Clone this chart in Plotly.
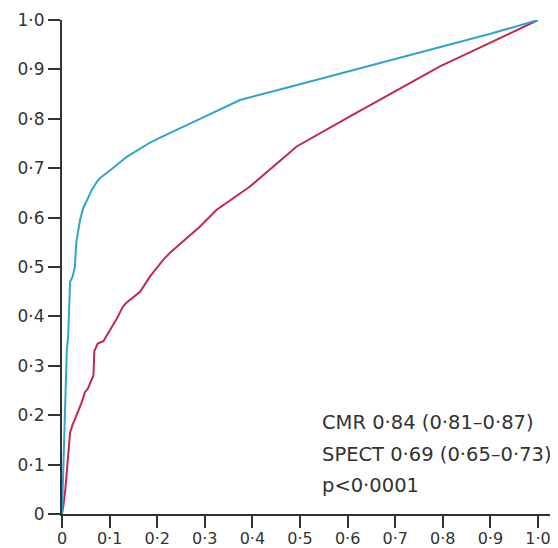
import plotly.graph_objects as go

# CMR ROC curve (blue)
cmr_fpr = [0, 0.003, 0.006, 0.008, 0.010, 0.013, 0.015, 0.016, 0.017, 0.022, 0.027, 0.030,
           0.035, 0.038, 0.045, 0.052, 0.062, 0.073, 0.080, 0.100, 0.136, 0.185, 0.206,
           0.290, 0.374, 0.480, 0.605, 0.700, 0.794, 0.900, 1.0]
cmr_tpr = [0, 0.10, 0.20, 0.27, 0.33, 0.36, 0.40, 0.44, 0.47, 0.48, 0.50, 0.55,
           0.58, 0.596, 0.62, 0.636, 0.655, 0.672, 0.680, 0.695, 0.723, 0.752, 0.762,
           0.80, 0.838, 0.865, 0.897, 0.922, 0.945, 0.972, 1.0]

# SPECT ROC curve (red)
spect_fpr = [0, 0.003, 0.007, 0.010, 0.013, 0.017, 0.022, 0.027, 0.035, 0.041, 0.048, 0.055,
             0.059, 0.066, 0.068, 0.075, 0.087, 0.100, 0.115, 0.128, 0.136, 0.164, 0.185,
             0.213, 0.227, 0.290, 0.325, 0.395, 0.493, 0.605, 0.700, 0.794, 0.900, 1.0]
spect_tpr = [0, 0.017, 0.05, 0.09, 0.131, 0.165, 0.18, 0.192, 0.21, 0.225, 0.246, 0.255,
             0.265, 0.28, 0.33, 0.345, 0.35, 0.37, 0.395, 0.42, 0.428, 0.45, 0.481,
             0.515, 0.529, 0.582, 0.616, 0.663, 0.744, 0.805, 0.856, 0.906, 0.954, 1.0]

tick_vals = [0, 0.1, 0.2, 0.3, 0.4, 0.5, 0.6, 0.7, 0.8, 0.9, 1.0]
tick_text = ["0", "0·1", "0·2", "0·3", "0·4", "0·5", "0·6", "0·7", "0·8", "0·9", "1·0"]

stats_lines = ["CMR 0·84 (0·81–0·87)", "SPECT 0·69 (0·65–0·73)", "p<0·0001"]
stats_y = [0.186, 0.121, 0.057]

BLUE = "#2ea6cc"
RED = "#c3284f"
AXIS = "#333333"
FONT = "DejaVu Sans"

fig = go.Figure()
fig.add_trace(go.Scatter(x=spect_fpr, y=spect_tpr, mode="lines",
                         line=dict(color=RED, width=2), cliponaxis=False,
                         name="SPECT", showlegend=False))
fig.add_trace(go.Scatter(x=cmr_fpr, y=cmr_tpr, mode="lines",
                         line=dict(color=BLUE, width=2), cliponaxis=False,
                         name="CMR", showlegend=False))

for txt, yy in zip(stats_lines, stats_y):
    fig.add_annotation(x=0.546, y=yy, xref="x", yref="y", text=txt,
                       showarrow=False, xanchor="left", yanchor="middle",
                       xshift=-2,
                       font=dict(family=FONT, size=19.5, color=AXIS))

axis_common = dict(showline=True, linecolor=AXIS, linewidth=2,
                   ticks="outside", ticklen=12, tickwidth=2, tickcolor=AXIS,
                   showgrid=False, zeroline=False, automargin=False,
                   tickvals=tick_vals, ticktext=tick_text)

# The page body has an 8 px margin, so the figure is sized/margined to land
# the plot area at the reference's pixel positions.
fig.update_layout(
    width=550, height=540,
    margin=dict(l=54, r=5, t=12, b=34),
    plot_bgcolor="white", paper_bgcolor="white",
    xaxis=dict(range=[0, 1.0315], tickfont=dict(family=FONT, size=16, color=AXIS),
               ticklabelstandoff=-3, **axis_common),
    yaxis=dict(range=[0, 1], tickfont=dict(family=FONT, size=17, color=AXIS),
               **axis_common),
    font=dict(family=FONT, color=AXIS),
)

fig.write_html("out.html")
